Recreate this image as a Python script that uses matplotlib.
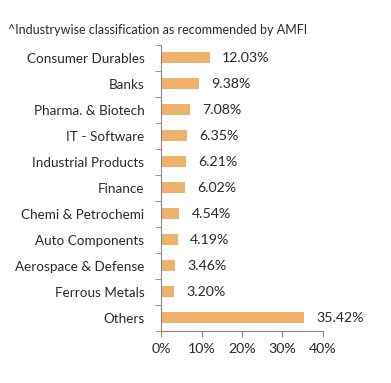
import numpy as np
from matplotlib import pyplot as plt

plt.rcParams["font.family"] = ["Lato", "DejaVu Sans"]

# Sector allocation (%)
sectors = [
    "Consumer Durables",
    "Banks",
    "Pharma. & Biotech",
    "IT - Software",
    "Industrial Products",
    "Finance",
    "Chemi & Petrochemi",
    "Auto Components",
    "Aerospace & Defense",
    "Ferrous Metals",
    "Others",
]
weights = [12.03, 9.38, 7.08, 6.35, 6.21, 6.02, 4.54, 4.19, 3.46, 3.20, 35.42]
xticks = [0, 10, 20, 30, 40]

fig = plt.figure(figsize=(3.91, 3.83), dpi=100)
ax = fig.add_axes([0.412, 0.136, 0.414, 0.747])

y = np.arange(len(sectors))
ax.barh(y, weights, height=0.42, color="#F0B16B")
for yi, w in zip(y, weights):
    ax.text(w + 3.0, yi, f"{w:.2f}%", va="center", ha="left",
            fontsize=10.2, color="#2a2a2a")

ax.set_ylim(len(sectors) - 0.5, -0.5)
ax.set_xlim(0, 40)
ax.set_yticks(y)
ax.set_yticklabels(sectors, fontsize=9.7, color="#2a2a2a")
ax.set_yticks(np.arange(len(sectors) + 1) - 0.5, minor=True)
ax.tick_params(axis="y", which="major", length=0, pad=12)
ax.tick_params(axis="y", which="minor", length=4, color="#888888")
ax.set_xticks(xticks)
ax.set_xticklabels([f"{t}%" for t in xticks], fontsize=10.2, color="#2a2a2a")
ax.tick_params(axis="x", length=4, color="#888888", pad=5)

for side in ["top", "right"]:
    ax.spines[side].set_visible(False)
for side in ["left", "bottom"]:
    ax.spines[side].set_color("#888888")

fig.text(0.02, 0.922, "^Industrywise classification as recommended by AMFI",
         fontsize=9.0, color="#2a2a2a", ha="left", va="center")

fig.savefig("out.png", dpi=100)
